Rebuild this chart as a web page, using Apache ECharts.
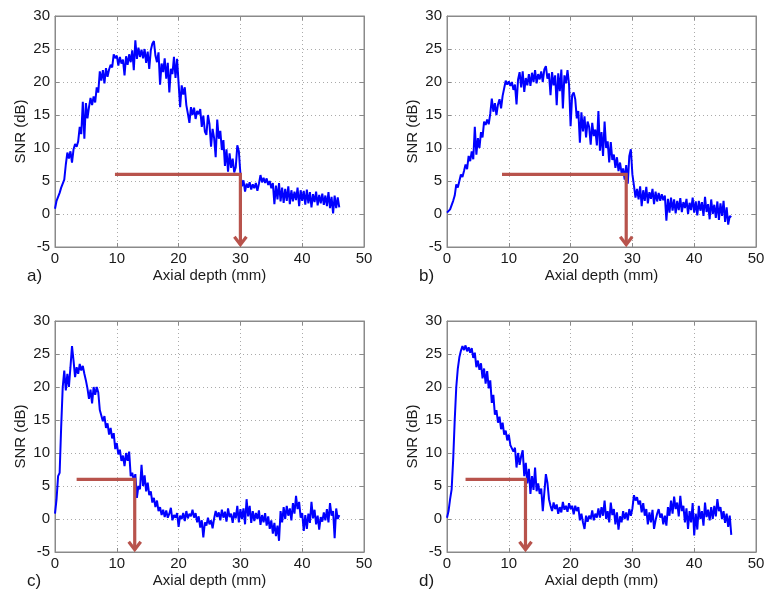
<!DOCTYPE html>
<html>
<head>
<meta charset="utf-8">
<script src="https://cdn.jsdelivr.net/npm/echarts@6/dist/echarts.min.js"></script>
<style>
html,body{margin:0;padding:0;background:#fff;}
#chart{width:768px;height:593px;}
</style>
</head>
<body>
<div id="chart"></div>
<script>
// Sample spacing along axial depth (mm)
const depthStep = 0.25;

const snrA = [
  0.8, 2.0, 2.6, 3.2, 4.0, 4.6, 5.2, 7.5,
  9.3, 8.4, 9.5, 7.8, 9.8, 10.6, 10.2, 11.0,
  13.2, 12.1, 17.0, 11.4, 16.8, 14.5, 16.2, 17.6,
  16.5, 17.8, 16.9, 19.2, 18.4, 21.6, 20.2, 21.8,
  19.8, 22.1, 20.8, 21.9, 22.6, 22.2, 24.2, 23.6,
  24.0, 22.5, 23.8, 22.8, 23.4, 21.0, 23.9, 22.6,
  24.2, 23.0, 24.8, 21.8, 26.3, 23.5, 25.2, 23.8,
  24.9, 23.6, 25.0, 22.9, 24.6, 22.0, 24.8, 25.8,
  26.2, 24.0, 23.0, 24.5, 19.6, 22.8, 21.5, 23.6,
  20.5, 22.9, 18.4, 22.0, 21.2, 23.8, 20.6, 23.5,
  19.8, 16.2, 19.5, 18.1, 19.2, 16.5, 15.2, 13.8,
  16.2, 15.0, 16.1, 14.4, 15.6, 15.1, 15.9, 13.2,
  14.9, 12.5, 12.0, 15.0, 13.6, 10.2, 12.9, 11.5,
  8.6, 14.3, 11.4, 12.6, 9.7, 11.2, 7.3, 9.8,
  6.4, 9.2, 7.0, 8.4, 6.3, 7.1, 10.4, 9.5,
  6.1, 4.2, 5.1, 3.4, 4.6, 4.0, 4.8, 3.7,
  4.5, 3.9, 4.7, 3.5, 4.6, 5.9, 4.8, 5.5,
  4.7, 5.4, 4.4, 5.0, 3.9, 4.7, 1.5, 4.3,
  2.2, 4.7, 1.9, 4.0, 1.7, 3.8, 2.0, 4.2,
  1.5, 3.6, 1.9, 3.4, 2.1, 4.0, 1.2, 3.6,
  2.0, 3.5, 1.4, 3.7, 1.6, 3.3, 1.0, 3.0,
  1.8, 3.4, 1.3, 2.9, 1.6, 3.1, 1.4, 2.8,
  1.2, 3.3, 0.9, 2.6, 0.1, 2.8, 0.9, 2.5,
  1.0
];

const snrB = [
  0.2, 0.5, 0.7, 0.9, 2.0, 2.8, 4.5, 4.0,
  5.0, 6.0, 5.6, 6.5, 7.5, 6.8, 8.8, 8.0,
  9.5, 8.3, 13.2, 9.0, 11.5, 10.0, 12.4, 11.6,
  14.0, 13.5, 14.3, 13.6, 15.2, 17.5, 15.5, 16.8,
  15.0, 16.6, 17.4, 16.0, 17.9, 18.2, 20.2, 19.6,
  20.1, 19.4, 20.0, 18.8, 19.6, 16.6, 20.4, 21.5,
  19.2, 21.6, 18.5, 20.6, 19.5, 21.2, 19.4, 21.4,
  20.0, 21.8, 19.8, 21.2, 20.4, 21.6, 20.0, 21.9,
  22.4, 20.5, 21.3, 18.0, 21.5, 19.5, 21.0, 16.5,
  21.3, 18.6, 21.9, 16.0, 21.0, 19.8, 21.8, 19.6,
  13.3, 18.0, 18.4, 17.4, 14.5, 15.6, 10.8, 15.4,
  12.5, 14.8, 11.6, 14.0, 13.2, 10.5, 13.8, 11.8,
  12.8, 10.4, 15.6, 9.6, 12.4, 8.8, 14.0, 10.0,
  11.0, 7.8, 10.9, 8.2, 9.0, 7.0, 8.6, 6.5,
  7.8, 6.2, 6.9, 5.2, 7.4, 4.6, 8.8, 9.8,
  6.0, 4.3, 2.5, 3.8, 2.2, 4.2, 1.2, 3.6,
  2.0, 4.1, 1.6, 3.3, 2.3, 3.8, 1.5, 3.4,
  1.9, 3.2, 2.0, 3.0, 2.1, 2.8, -1.0, 2.3,
  0.2, 2.5, 0.5, 2.2, 0.1, 2.0, 0.6, 2.4,
  0.3, 1.8, 0.9, 2.3, 0.0, 1.7, 0.6, 2.5,
  0.2, 1.9, -0.2, 2.0, 0.5, 1.8, -0.3, 2.6,
  0.3, 1.5, -0.8, 2.2, 0.0, 1.4, -0.6, 1.9,
  -0.9, 1.6, -0.3, 2.0, -1.2, 1.0, -1.6, -0.3,
  -0.5
];

const snrC = [
  0.8, 3.0, 6.5, 7.0, 14.0, 20.0, 22.5, 19.5,
  22.0, 20.0, 23.0, 26.2, 24.0, 21.5, 23.0, 22.0,
  23.5, 22.5, 23.2, 22.0, 21.0, 19.8, 18.2, 19.6,
  17.5, 20.0, 18.8, 20.0, 19.2, 16.5, 16.8, 14.8,
  15.6, 13.8, 14.5, 12.8, 13.8, 12.2, 13.0, 10.6,
  11.5, 9.8, 10.5, 8.8, 9.6, 8.0, 10.0, 8.8,
  10.2, 6.5, 7.0, 5.8, 6.8, 3.2, 5.0, 4.5,
  8.2, 5.0, 6.6, 4.2, 5.5, 3.6, 4.2, 2.5,
  3.2, 1.8, 2.8, 1.2, 1.8, 0.6, 1.4, 0.3,
  1.3, 0.2, 0.8, 1.7, -0.2, 0.6, 0.2, 0.9,
  -1.2, 0.5, 0.0, 0.9, -0.3, 1.2, 0.1, 0.8,
  0.4, 1.4, 0.2, 0.9, -0.5, 0.4, -1.3, -0.2,
  -2.8, -0.5, -1.0, 0.2, -0.8, -0.2, -1.4, 0.1,
  1.2, 0.3, 1.0, -0.2, 1.4, 0.2, 1.1, -0.4,
  1.6, 0.3, 0.8, -0.6, 1.0, 0.1, 2.0, -0.5,
  1.5, 0.0, 1.6, -0.8, 3.0, 0.4, 2.0, -0.6,
  1.2, -0.3, 0.9, 0.0, 1.3, -0.9, 0.6, -0.5,
  0.9, -1.0, 0.4, -1.5, -0.2, -2.2, -0.6, -2.6,
  -1.0, -3.3, 1.2, -0.5, 1.8, 0.0, 2.0, 0.5,
  1.6, -0.2, 2.4, 0.8, 3.5, 1.5, 2.6, 0.2,
  0.9, -1.8, 0.6, -1.5, 0.8, -0.6, 2.6, 0.1,
  1.4, -0.8, 0.5, -1.6, 0.3, -0.4, 1.0, -0.2,
  1.5, -0.5, 2.4, 0.5, 1.2, -2.9, 1.6, 0.0,
  0.6
];

const snrD = [
  0.2, 1.2, 3.0, 4.5, 9.0, 15.0, 20.0, 22.8,
  24.5, 25.5, 26.2, 25.6, 26.3, 25.4, 26.0, 25.2,
  25.9, 24.4, 25.2, 23.0, 24.0, 22.6, 23.6, 21.3,
  22.8, 20.5, 22.4, 19.8, 21.0, 17.6, 18.8, 15.8,
  16.5, 14.6, 15.5, 13.6, 14.6, 12.8, 13.4, 11.9,
  12.8, 11.2, 11.5, 10.2, 10.8, 7.8, 10.0, 8.2,
  9.5, 10.4, 6.5, 8.5, 5.4, 7.6, 3.8, 6.5,
  4.4, 7.8, 4.2, 5.4, 3.8, 4.6, 1.2, 4.0,
  6.8, 5.5, 3.0, 2.0, 1.2, 2.5, 1.5, 2.2,
  0.8, 1.8, 1.0, 2.6, 1.4, 2.0, 1.1, 2.4,
  1.5, 2.0, 0.7, 2.0, 1.2, 1.8, -0.2, 0.8,
  -0.5, -1.5, 0.5, -0.4, 0.5, 0.0, 1.3, -0.2,
  0.8, 0.2, 1.6, 0.2, 1.8, 0.5, 2.8, 0.0,
  1.2, -0.5, 2.5, 0.6, 1.5, -0.8, 1.0, -1.6,
  0.4, -0.5, 1.2, 0.0, 1.0, -0.2, 1.5, 0.5,
  1.6, 3.6, 2.8, 3.3, 2.2, 2.8, 1.0, 2.4,
  0.5, 1.5, -0.8, 1.0, -0.5, 1.4, -1.5, -0.2,
  0.8, 1.5, 0.2, 0.8, -0.8, 0.5, -1.0, 1.8,
  0.5, 2.8, 0.8, 3.4, 1.5, 2.5, 0.4, 3.5,
  1.2, 2.0, -0.5, 1.6, -1.5, 1.2, -0.5, 2.4,
  -2.5, 0.8, -1.6, 2.0, 0.0, 1.2, -1.0, 2.5,
  0.3, 1.4, -0.2, 1.8, 0.0, 2.0, 0.4, 3.0,
  1.2, 1.8, 0.0, 1.2, -0.6, 0.8, -1.2, 0.5,
  -2.4
];

const panelLabels = ['a)', 'b)', 'c)', 'd)'];
const xTickValues = [0, 10, 20, 30, 40, 50];
const yTickValues = [-5, 0, 5, 10, 15, 20, 25, 30];
const xAxisTitle = 'Axial depth (mm)';
const yAxisTitle = 'SNR (dB)';

// Red threshold arrows: horizontal start x, corner x, level (dB), arrow tip (dB)
const arrowStartX = [9.7, 8.9, 3.5, 3.0];
const arrowCornerX = [30.0, 29.0, 12.9, 12.7];
const arrowLevel = [6, 6, 6, 6];
const arrowTipY = [-4.8, -4.8, -4.8, -4.8];

const allSnr = [snrA, snrB, snrC, snrD];

const gridPos = [
  {left: 55, top: 16},
  {left: 447, top: 16},
  {left: 55, top: 321},
  {left: 447, top: 321}
];
const PW = 309, PH = 231;

const FONT = 'Liberation Sans, Arial, sans-serif';
const frameColor = '#8a8a8a';
const textColor = '#1a1a1a';

const grids = [], xAxes = [], yAxes = [], series = [], graphics = [];

gridPos.forEach((g, i) => {
  grids.push({left: g.left, top: g.top, width: PW, height: PH, show: true,
    borderColor: frameColor, borderWidth: 1, backgroundColor: '#fff'});
  // bottom x axis
  xAxes.push({
    type: 'value', gridIndex: i, min: xTickValues[0], max: xTickValues[xTickValues.length - 1], interval: 10,
    position: 'bottom',
    name: xAxisTitle, nameLocation: 'middle', nameGap: 21,
    nameTextStyle: {fontFamily: FONT, fontSize: 15, color: textColor},
    axisLine: {show: true, onZero: false, lineStyle: {color: frameColor}},
    axisTick: {show: true, inside: true, length: 4, lineStyle: {color: frameColor}},
    axisLabel: {fontFamily: FONT, fontSize: 15, color: textColor, margin: 4},
    splitLine: {show: true, lineStyle: {color: '#aaaaaa', type: [1, 3], width: 1}}
  });
  // top x axis (ticks only)
  xAxes.push({
    type: 'value', gridIndex: i, min: 0, max: 50, interval: 10, position: 'top',
    axisLine: {show: true, onZero: false, lineStyle: {color: frameColor}},
    axisTick: {show: true, inside: true, length: 4, lineStyle: {color: frameColor}},
    axisLabel: {show: false}, splitLine: {show: false}
  });
  yAxes.push({
    type: 'value', gridIndex: i, min: yTickValues[0], max: yTickValues[yTickValues.length - 1], interval: 5,
    position: 'left',
    name: yAxisTitle, nameLocation: 'middle', nameGap: 27,
    nameTextStyle: {fontFamily: FONT, fontSize: 15, color: textColor},
    axisLine: {show: true, onZero: false, lineStyle: {color: frameColor}},
    axisTick: {show: true, inside: true, length: 4, lineStyle: {color: frameColor}},
    axisLabel: {fontFamily: FONT, fontSize: 15, color: textColor, margin: 5},
    splitLine: {show: true, lineStyle: {color: '#aaaaaa', type: [1, 3], width: 1}}
  });
  yAxes.push({
    type: 'value', gridIndex: i, min: -5, max: 30, interval: 5, position: 'right',
    axisLine: {show: true, onZero: false, lineStyle: {color: frameColor}},
    axisTick: {show: true, inside: true, length: 4, lineStyle: {color: frameColor}},
    axisLabel: {show: false}, splitLine: {show: false}
  });

  const vals = allSnr[i];
  series.push({
    type: 'line', xAxisIndex: 2 * i, yAxisIndex: 2 * i,
    data: vals.map((v, k) => [k * depthStep, v]),
    showSymbol: false, symbol: 'none', animation: false,
    lineStyle: {color: '#0000ff', width: 2},
    z: 3
  });

  series.push({
    type: 'custom', xAxisIndex: 2 * i, yAxisIndex: 2 * i,
    data: [[arrowStartX[i], arrowCornerX[i], arrowLevel[i], arrowTipY[i]]],
    encode: {x: [0, 1], y: [2, 3]},
    animation: false, z: 4, clip: false,
    renderItem: function (params, api) {
      const p0 = api.coord([api.value(0), api.value(2)]);
      const p1 = api.coord([api.value(1), api.value(2)]);
      const p2 = api.coord([api.value(1), api.value(3)]);
      const st = {stroke: '#b8534c', lineWidth: 3.2, fill: null, lineJoin: 'miter', lineCap: 'butt'};
      return {
        type: 'group',
        children: [
          {type: 'polyline', shape: {points: [p0, p1, [p2[0], p2[1] - 1]]}, style: st},
          {type: 'polyline', shape: {points: [[p2[0] - 6, p2[1] - 9], [p2[0], p2[1] - 1], [p2[0] + 6, p2[1] - 9]]}, style: st}
        ]
      };
    }
  });

  graphics.push({
    type: 'text', left: g.left - 28, top: g.top + PH + 21,
    style: {text: panelLabels[i], font: '17px ' + FONT, fill: textColor}
  });
});

const chart = echarts.init(document.getElementById('chart'), null, {renderer: 'canvas'});
chart.setOption({
  animation: false,
  backgroundColor: '#fff',
  grid: grids,
  xAxis: xAxes,
  yAxis: yAxes,
  series: series,
  graphic: graphics
});
</script>
</body>
</html>
